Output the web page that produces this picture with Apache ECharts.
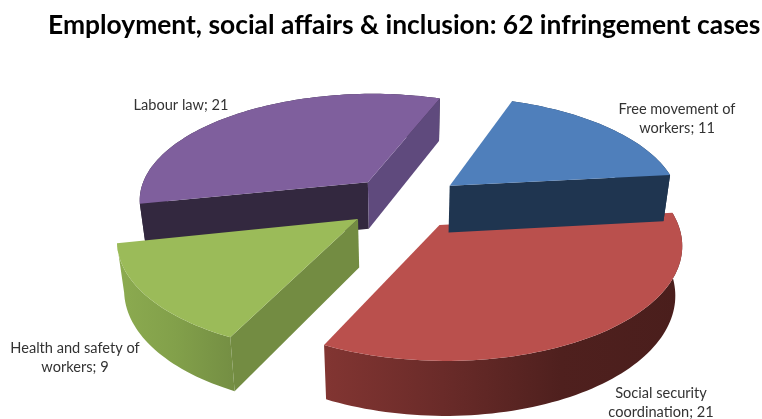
<!DOCTYPE html><html><head><meta charset="utf-8"><script src="https://cdn.jsdelivr.net/npm/echarts@6/dist/echarts.min.js"></script></head><body style="margin:0;background:#fff"><div id="c" style="width:762px;height:419px"></div><script>
const categories=['Free movement of\nworkers','Social security\ncoordination','Health and safety of\nworkers','Labour law'];
const values=[11,21,9,21];
const chartTitle='Employment, social affairs & inclusion: 62 infringement cases';
// drawing styles
const topColors=['#4f7fbb','#ba504d','#9bbb59','#7f5f9d'];
const startFace=['#1f3550','#5a2422','#738c42','#33283f'];
const endFace=['#1f3550','#5a2422','#738c42','#5f4a7d'];
const wallStops=[[['#1f3550',0],['#1f3550',1]],[['#823532',0],['#6a2b29',.33],['#4f201e',.66],['#4a1e1c',1]],[['#8cab50',0],['#82a04a',.5],['#748e43',1]],[['#33283f',0],['#33283f',1]]];
const drawOrder=[1,3,2,0];
// view geometry
const W=762,H=419,cx=404.93,cy=202.05,R=231.26,tilt=.4648,persp=.1527,explode=.2516,startDeg=20.01,depth=47.5/R,base=.975;
const labelSpots=[[677,119],[661,403],[75,358],[181,105]];
const total=values.reduce((a,b)=>a+b,0);
let run=0;const rows=values.map(v=>{const r=[0,0,v,run];run+=v;return r});
function proj(X,Y,z){const f=1/(1+persp*Y),s=z?base:1;return [X*f*s,tilt*Y*f-(z?depth*(1+(f-1)*.7):0)]}
function renderItem(params,api){
 const i=params.dataIndex,val=api.value(2),before=api.value(3);
 const a0=startDeg+before/total*360,a1=a0+val/total*360,m=(a0+a1)/2*Math.PI/180;
 const ax=explode*Math.sin(m),ay=explode*Math.cos(m);
 const pt=(X,Y,z)=>api.coord(proj(X,Y,z));
 const rim=d=>{const t=d*Math.PI/180;return [ax+Math.sin(t),ay+Math.cos(t)]};
 const n=Math.ceil((a1-a0)/1.5),top=[],bot=[];
 for(let j=0;j<=n;j++){const r=rim(a0+(a1-a0)*j/n);top.push(pt(r[0],r[1],0));bot.push(pt(r[0],r[1],1))}
 const A=pt(ax,ay,0),B=pt(ax,ay,1);
 const area=p=>{let s=0;p.forEach((c,k)=>{const d=p[(k+1)%p.length];s+=c[0]*d[1]-d[0]*c[1]});return s/2};
 const kids=[];const z=drawOrder.indexOf(i)*10;
 const poly=(points,fill,zz)=>kids.push({type:'polygon',shape:{points},style:{fill,stroke:null},z2:z+zz,silent:true});
 poly(top.concat(bot.slice().reverse()),{type:'linear',x:0,y:0,x2:1,y2:0,colorStops:wallStops[i].map(s=>({color:s[0],offset:s[1]}))},0);
 const f0=[A,top[0],bot[0],B],f1=[A,top[n],bot[n],B];
 if(area(f0)<0)poly(f0,startFace[i],1);
 if(area(f1)>0)poly(f1,endFace[i],1);
 poly([A].concat(top),topColors[i],2);
 return {type:'group',children:kids};
}
const chart=echarts.init(document.getElementById('c'),null,{renderer:'canvas'});
chart.setOption({animation:false,backgroundColor:'#fff',
 title:{text:chartTitle,left:43,top:7,textStyle:{fontFamily:'Lato',fontWeight:'bold',fontSize:26.4,color:'#000'}},
 grid:{left:0,right:0,top:0,bottom:0},
 xAxis:{type:'value',show:false,min:-cx/R,max:(W-cx)/R},
 yAxis:{type:'value',show:false,min:-(H-cy)/R,max:cy/R},
 series:[{type:'custom',coordinateSystem:'cartesian2d',clip:false,silent:true,data:rows,encode:{x:0,y:1},renderItem}],
 graphic:categories.map((c,i)=>({type:'text',x:labelSpots[i][0],y:labelSpots[i][1],silent:true,z:100,style:{text:c+'; '+values[i],align:'center',verticalAlign:'middle',fontFamily:'Lato',fontSize:14.6,lineHeight:19,fill:'#333'}}))
});
</script></body></html>
